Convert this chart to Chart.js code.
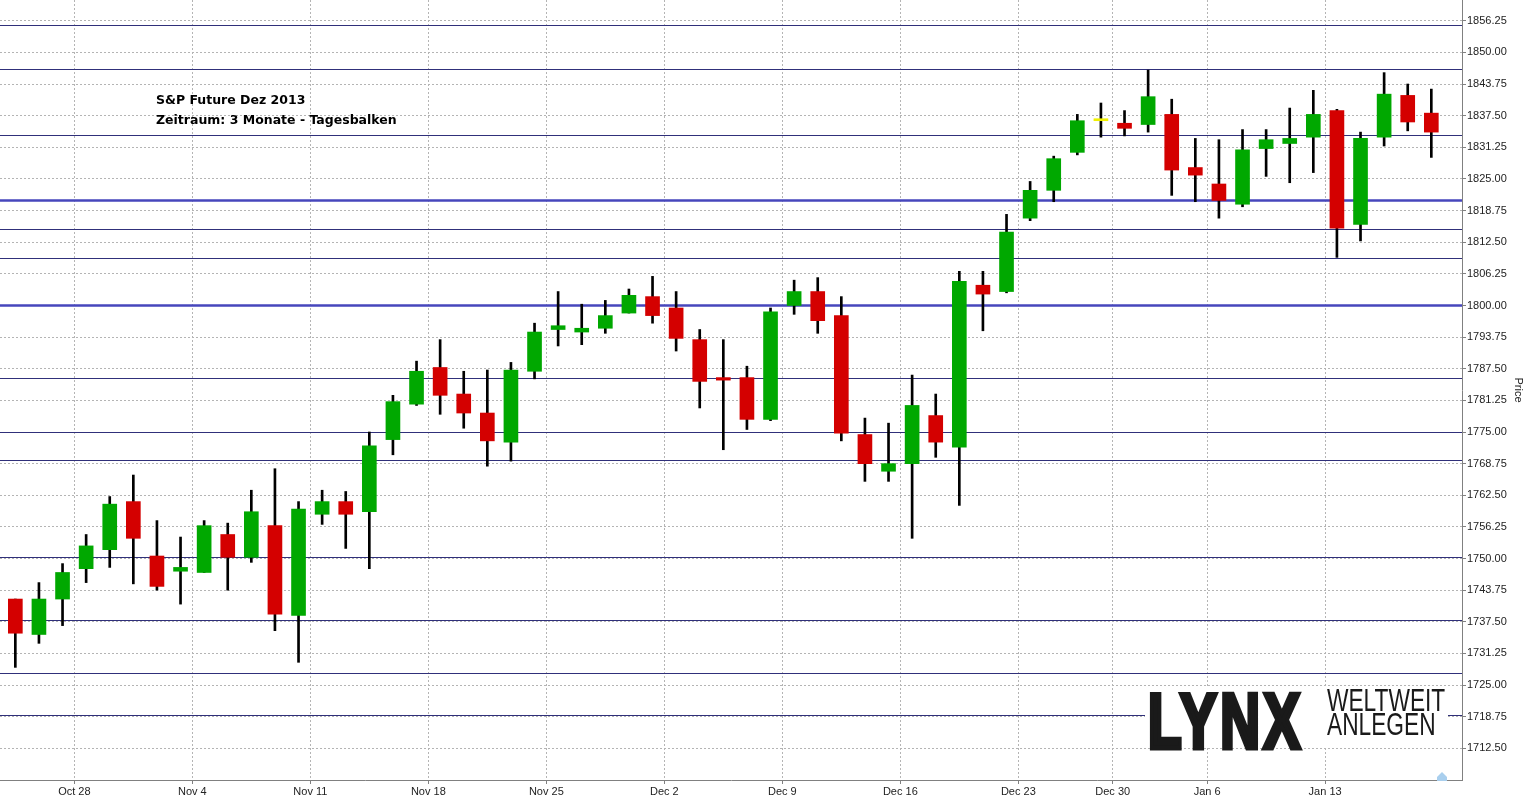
<!DOCTYPE html>
<html>
<head>
<meta charset="utf-8">
<title>S&amp;P Future Dez 2013</title>
<script src="https://cdn.jsdelivr.net/npm/chart.js"></script>
<style>
  body { margin: 0; background: #fff; }
  #wrap { position: relative; width: 1527px; height: 799px; overflow: hidden; }
  #note { position: absolute; left: 156px; top: 90px; font: bold 12.5px "DejaVu Sans"; line-height: 20px; color: #000; white-space: nowrap; }
  #logoBg { position: absolute; left: 1145px; top: 688px; width: 303px; height: 59px; background: #fff; }
  #lynx { position: absolute; left: 1148px; top: 681.5px; font: bold 78px "Liberation Sans"; line-height: 78px; letter-spacing: 5px; color: #1a1a1a; -webkit-text-stroke: 5px #1a1a1a; transform: scaleX(0.705); transform-origin: left top; white-space: nowrap; }
  #slogan { position: absolute; left: 1327px; top: 689px; font: 31px "Liberation Sans"; line-height: 23.5px; color: #1a1a1a; transform: scaleX(0.733); transform-origin: left top; white-space: nowrap; }
  #home { position: absolute; left: 1437px; top: 772px; width: 10px; height: 9px; background: #a9cfee; clip-path: polygon(50% 0, 100% 55%, 100% 100%, 0 100%, 0 55%); }
</style>
</head>
<body>
<div id="wrap">
  <canvas id="chart" width="1527" height="799"></canvas>
  <div id="note">S&amp;P Future Dez 2013<br>Zeitraum: 3 Monate - Tagesbalken</div>
  <div id="logoBg"></div>
  <div id="lynx">LYNX</div>
  <div id="slogan">WELTWEIT<br>ANLEGEN</div>
  <div id="home"></div>
</div>
<script>
// daily bars, S&P 500 future Dec 2013
const dates = ["Oct 23", "Oct 24", "Oct 25", "Oct 28", "Oct 29", "Oct 30", "Oct 31", "Nov 1",
  "Nov 4", "Nov 5", "Nov 6", "Nov 7", "Nov 8", "Nov 11", "Nov 12", "Nov 13", "Nov 14", "Nov 15",
  "Nov 18", "Nov 19", "Nov 20", "Nov 21", "Nov 22", "Nov 25", "Nov 26", "Nov 27", "Nov 28", "Nov 29",
  "Dec 2", "Dec 3", "Dec 4", "Dec 5", "Dec 6", "Dec 9", "Dec 10", "Dec 11", "Dec 12", "Dec 13",
  "Dec 16", "Dec 17", "Dec 18", "Dec 19", "Dec 20", "Dec 23", "Dec 24", "Dec 26", "Dec 27",
  "Dec 30", "Dec 31", "Jan 2", "Jan 3", "Jan 6", "Jan 7", "Jan 8", "Jan 9", "Jan 10",
  "Jan 13", "Jan 14", "Jan 15", "Jan 16", "Jan 17"];
const opens = [1742.0, 1735.0, 1742.0, 1748.0, 1751.75, 1761.25, 1750.5, 1747.5,
  1747.25, 1754.75, 1750.25, 1756.5, 1738.75, 1758.75, 1761.25, 1759.25, 1773.5, 1780.5,
  1787.75, 1782.5, 1778.75, 1773.0, 1787.0, 1795.25, 1794.75, 1795.5, 1798.5, 1801.75,
  1799.5, 1793.25, 1785.75, 1785.75, 1777.5, 1800.0, 1802.75, 1798.0, 1774.5, 1767.25,
  1768.75, 1778.25, 1772.0, 1804.0, 1802.75, 1817.25, 1822.75, 1830.25, 1836.5,
  1836.0, 1835.75, 1837.75, 1827.25, 1824.0, 1820.0, 1831.0, 1832.0, 1833.25,
  1838.5, 1816.0, 1833.25, 1841.5, 1838.0];
const highs = [1742.0, 1745.25, 1749.0, 1754.75, 1762.25, 1766.5, 1757.5, 1754.25,
  1757.5, 1757.0, 1763.5, 1767.75, 1761.25, 1763.5, 1763.25, 1775.0, 1782.25, 1789.0,
  1793.25, 1787.0, 1787.25, 1788.75, 1796.5, 1802.75, 1800.25, 1801.0, 1803.25, 1805.75,
  1802.75, 1795.25, 1793.25, 1788.0, 1799.5, 1805.0, 1805.5, 1801.75, 1777.75, 1776.75,
  1786.25, 1782.5, 1806.75, 1806.75, 1818.0, 1824.5, 1829.5, 1837.75, 1840.0,
  1838.5, 1846.5, 1840.75, 1833.0, 1832.75, 1834.75, 1834.75, 1839.0, 1842.5,
  1838.75, 1834.25, 1846.0, 1843.75, 1842.75];
const lows = [1728.5, 1733.25, 1736.75, 1745.25, 1748.25, 1745.0, 1743.75, 1741.0,
  1747.25, 1743.75, 1749.25, 1735.75, 1729.5, 1756.75, 1752.0, 1748.0, 1770.5, 1780.25,
  1778.5, 1775.75, 1768.25, 1769.25, 1785.5, 1792.0, 1792.25, 1794.5, 1798.5, 1796.5,
  1791.0, 1779.75, 1771.5, 1775.5, 1777.25, 1798.25, 1794.5, 1773.25, 1765.25, 1765.25,
  1754.0, 1770.0, 1760.5, 1795.0, 1802.5, 1816.75, 1820.5, 1829.75, 1833.25,
  1833.5, 1834.25, 1821.75, 1820.5, 1817.25, 1819.5, 1825.5, 1824.25, 1826.25,
  1809.5, 1812.75, 1831.5, 1834.5, 1829.25];
const closes = [1735.25, 1742.0, 1747.25, 1752.5, 1760.75, 1754.0, 1744.5, 1748.25,
  1756.5, 1750.25, 1759.25, 1739.0, 1759.75, 1761.25, 1758.75, 1772.25, 1781.0, 1787.0,
  1782.25, 1778.75, 1773.25, 1787.25, 1794.75, 1796.0, 1795.5, 1798.0, 1802.0, 1798.0,
  1793.5, 1785.0, 1785.25, 1777.5, 1798.75, 1802.75, 1797.0, 1774.75, 1768.75, 1768.75,
  1780.25, 1773.0, 1804.75, 1802.25, 1814.5, 1822.75, 1829.0, 1836.5, 1836.5,
  1835.0, 1841.25, 1826.75, 1825.75, 1820.75, 1830.75, 1832.75, 1833.0, 1837.75,
  1815.25, 1833.0, 1841.75, 1836.25, 1834.25];

// week starts shown on the time axis
const tickLabels = ["Oct 28", "Nov 4", "Nov 11", "Nov 18", "Nov 25", "Dec 2", "Dec 9", "Dec 16", "Dec 23", "Dec 30", "Jan 6", "Jan 13"];
const priceTicks = [1712.5, 1718.75, 1725.0, 1731.25, 1737.5, 1743.75, 1750.0, 1756.25, 1762.5, 1768.75,
  1775.0, 1781.25, 1787.5, 1793.75, 1800.0, 1806.25, 1812.5, 1818.75, 1825.0, 1831.25,
  1837.5, 1843.75, 1850.0, 1856.25];

// drawn support / resistance lines
const levels = [1855.4, 1846.65, 1833.6, 1820.8, 1815.2, 1809.3, 1800.0, 1785.7, 1775.1, 1769.4, 1750.4, 1737.8, 1727.3, 1719.05];
const strongLevels = [1820.8, 1800.0];

const upColor = '#00a800';
const downColor = '#d40000';
const flatColor = '#f0f000';

const bodyColors = opens.map((o, i) => closes[i] > o ? upColor : (closes[i] < o ? downColor : flatColor));
const wicks = dates.map((d, i) => ({ x: i, y: [lows[i], highs[i]] }));
const bodies = dates.map((d, i) => ({ x: i, y: [opens[i], closes[i]] }));
// grid line sits on the left edge of the monday bar
const tickPositions = tickLabels.map(l => dates.indexOf(l) - 0.5);

const levelLines = {
  id: 'levelLines',
  beforeDatasetsDraw(chart) {
    const { ctx, chartArea, scales: { y } } = chart;
    ctx.save();
    levels.forEach(lvl => {
      const strong = strongLevels.includes(lvl);
      const py = Math.round(y.getPixelForValue(lvl)) + 0.5;
      ctx.beginPath();
      ctx.lineWidth = strong ? 2.5 : 1.2;
      ctx.strokeStyle = strong ? '#4646bc' : '#30307a';
      ctx.moveTo(chartArea.left, py);
      ctx.lineTo(chartArea.right, py);
      ctx.stroke();
    });
    ctx.restore();
  }
};

new Chart(document.getElementById('chart'), {
  type: 'bar',
  data: {
    datasets: [{
      label: 'Body',
      data: bodies,
      backgroundColor: bodyColors,
      borderWidth: 0,
      barThickness: 14,
      minBarLength: 2,
      grouped: false,
      order: 0
    }, {
      label: 'Range',
      data: wicks,
      backgroundColor: '#000',
      borderWidth: 0,
      barThickness: 2,
      grouped: false,
      order: 1
    }]
  },
  plugins: [levelLines],
  options: {
    responsive: false,
    animation: false,
    layout: { padding: 0 },
    plugins: { legend: { display: false }, tooltip: { enabled: false } },
    scales: {
      x: {
        type: 'linear',
        offset: false,
        min: -0.65,
        max: 61.3,
        afterBuildTicks: s => { s.ticks = tickPositions.map(v => ({ value: v })); },
        afterFit: s => { s.height = 19; s.paddingLeft = 0; s.paddingRight = 0; },
        grid: { offset: false, color: '#b4b4b4', tickColor: '#808080', tickLength: 4 },
        border: { color: '#808080', dash: [2, 2] },
        ticks: {
          autoSkip: false,
          maxRotation: 0,
          padding: 1,
          color: '#222',
          font: { family: 'Liberation Sans', size: 11 },
          callback: (v, i) => tickLabels[i]
        }
      },
      y: {
        position: 'right',
        min: 1706.25,
        max: 1860.35,
        afterBuildTicks: s => { s.ticks = priceTicks.map(v => ({ value: v })); },
        afterFit: s => { s.width = 65; s.paddingTop = 0; s.paddingBottom = 0; },
        grid: { color: '#b4b4b4', tickColor: '#808080', tickLength: 4 },
        border: { color: '#808080', dash: [2, 2] },
        ticks: {
          padding: 1,
          color: '#222',
          font: { family: 'Liberation Sans', size: 11 },
          callback: v => v.toFixed(2)
        },
        title: {
          display: true,
          text: 'Price',
          color: '#222',
          padding: { top: 2, bottom: 0 },
          font: { family: 'Liberation Sans', size: 11 }
        }
      }
    }
  }
});
</script>
</body>
</html>
